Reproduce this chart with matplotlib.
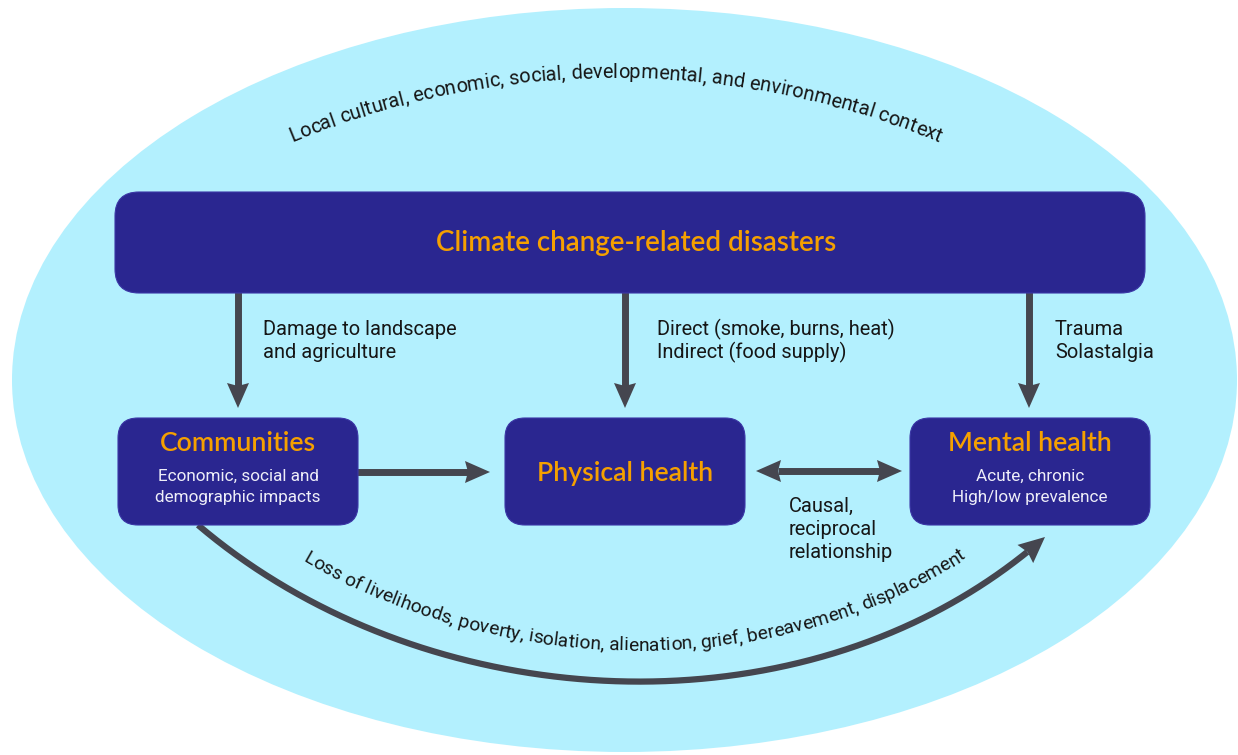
import numpy as np
import matplotlib
matplotlib.use("Agg")
import matplotlib.pyplot as plt
from matplotlib import ft2font
from matplotlib.patches import Ellipse, FancyBboxPatch, Polygon
from matplotlib.font_manager import FontProperties, findfont, get_font

# ---------------- content ----------------
title = "Climate change-related disasters"
node_titles = ["Communities", "Physical health", "Mental health"]
node_subs = [["Economic, social and", "demographic impacts"], [], ["Acute, chronic", "High/low prevalence"]]
edge_labels = [["Damage to landscape", "and agriculture"],
               ["Direct (smoke, burns, heat)", "Indirect (food supply)"],
               ["Trauma", "Solastalgia"]]
recip_label = ["Causal,", "reciprocal", "relationship"]
context_label = "Local cultural, economic, social, developmental, and environmental context"
loss_label = "Loss of livelihoods, poverty, isolation, alienation, grief, bereavement, displacement"

# ---------------- style ----------------
BG = '#B3F0FE'
BOX = '#2A2690'
ORANGE = '#F5A000'
ARROW = '#45464F'
TXT = '#161616'
SUB = '#EEEEF8'
BODY = 'Roboto'
HEAD = 'Lato'

W, H = 1238, 755
fig = plt.figure(figsize=(W / 100, H / 100), dpi=100)
ax = fig.add_axes([0, 0, 1, 1])
ax.set_xlim(0, W)
ax.set_ylim(H, 0)
ax.axis('off')
renderer = fig.canvas.get_renderer()


def text_w(s, size, family, weight='normal'):
    fp = FontProperties(family=family, size=size, weight=weight)
    w, h, d = renderer.get_text_width_height_descent(s, fp, ismath=False)
    return w


def fit(s, family, target, weight='normal'):
    return 10.0 * target / text_w(s, 10.0, family, weight)


# background ellipse
ax.add_patch(Ellipse((624.5, 380), 1225, 744, fc=BG, ec='none', zorder=0))


def rbox(x0, y0, x1, y1, r):
    ax.add_patch(FancyBboxPatch((x0, y0), x1 - x0, y1 - y0,
                                boxstyle=f"round,pad=0,rounding_size={r}",
                                fc=BOX, ec='#3B37A6', lw=0.8, zorder=4))


def head(tip, direction, length=25, hw=11, notch=3):
    d = np.asarray(direction, float)
    d = d / np.linalg.norm(d)
    n = np.array([-d[1], d[0]])
    tip = np.asarray(tip, float)
    base = tip - d * length
    pts = [tip, base + n * hw, base + d * notch, base - n * hw]
    ax.add_patch(Polygon(pts, closed=True, fc=ARROW, ec='none', zorder=5))
    return base + d * notch


def straight_arrow(p0, tip, lw=5, double=False):
    p0 = np.asarray(p0, float)
    tip = np.asarray(tip, float)
    e = head(tip, tip - p0)
    s = p0
    if double:
        s = head(p0, p0 - tip)
    ax.plot([s[0], e[0]], [s[1], e[1]], color=ARROW, lw=lw,
            solid_capstyle='butt', zorder=3)


# ---------- curved arrow (cubic bezier fitted through traced points) ----------
curve_pts = np.array([(198, 525), (230, 550), (280, 588), (330, 610), (380, 633),
                      (463, 657), (547, 675), (630, 683), (713, 678), (797, 663),
                      (870, 637), (937, 613), (987, 587), (1020, 560), (1045, 537)], float)
dd = np.r_[0, np.cumsum(np.hypot(*np.diff(curve_pts, axis=0).T))]
tt = dd / dd[-1]
B = np.c_[(1 - tt) ** 3, 3 * tt * (1 - tt) ** 2, 3 * tt ** 2 * (1 - tt), tt ** 3]
P0, P3 = curve_pts[0], curve_pts[-1]
R = curve_pts - np.outer(B[:, 0], P0) - np.outer(B[:, 3], P3)
sol = np.linalg.lstsq(B[:, 1:3], R, rcond=None)[0]
P1, P2 = sol
t = np.linspace(0, 1, 600)
bez = (np.outer((1 - t) ** 3, P0) + np.outer(3 * t * (1 - t) ** 2, P1)
       + np.outer(3 * t ** 2 * (1 - t), P2) + np.outer(t ** 3, P3))
tip = bez[-1]
dirn = bez[-1] - bez[-8]
hb = head(tip, dirn, length=26, hw=12, notch=3)
keep = np.hypot(bez[:, 0] - tip[0], bez[:, 1] - tip[1]) > 22
ax.plot(bez[keep, 0], bez[keep, 1], color=ARROW, lw=4.5, solid_capstyle='butt', zorder=3)

# ---------- boxes ----------
rbox(115, 192, 1145, 293, 24)
node_x = [(118, 358), (505, 745), (910, 1150)]
for (x0, x1) in node_x:
    rbox(x0, 418, x1, 525, 20)

# ---------- straight arrows ----------
for x in [238, 625, 1029]:
    straight_arrow((x, 290), (x, 408))
straight_arrow((356, 472), (490, 472))
straight_arrow((756, 471), (902, 471), double=True)

# ---------- texts ----------
hw_ = 'semibold'
fs_title = fit(title, HEAD, 402, hw_)
ax.text(636, 251, title, color=ORANGE, fontsize=fs_title, family=HEAD,
        weight=hw_, ha='center', va='baseline', zorder=6)

head_targets = [154, 178, 164]
head_base = [451, 481, 451]
fs_node = np.mean([fit(s, HEAD, w, hw_) for s, w in zip(node_titles, head_targets)])
centers = [238, 625, 1030]
for cx, s, by in zip(centers, node_titles, head_base):
    ax.text(cx, by, s, color=ORANGE, fontsize=fs_node, family=HEAD, weight=hw_,
            ha='center', va='baseline', zorder=6)

fs_sub = fit("Economic, social and", BODY, 161)
for cx, lines in zip(centers, node_subs):
    for i, ln in enumerate(lines):
        ax.text(cx, 481 + 21 * i, ln, color=SUB, fontsize=fs_sub, family=BODY,
                ha='center', va='baseline', zorder=6)

fs_lab = fit("Damage to landscape", BODY, 194)
for lx, lines in zip([263, 657, 1055], edge_labels):
    for i, ln in enumerate(lines):
        ax.text(lx, 335 + 23 * i, ln, color=TXT, fontsize=fs_lab, family=BODY,
                ha='left', va='baseline', zorder=6)
for i, ln in enumerate(recip_label):
    ax.text(789, 512 + 23 * i, ln, color=TXT, fontsize=fs_lab, family=BODY,
            ha='left', va='baseline', zorder=6)


# ---------- text on path (advance-width based layout) ----------
_NOHINT = ft2font.LoadFlags.NO_HINTING if hasattr(ft2font, 'LoadFlags') else ft2font.LOAD_NO_HINTING
_KDEF = ft2font.Kerning.DEFAULT if hasattr(ft2font, 'Kerning') else ft2font.KERNING_DEFAULT


def layout(s, fs, family):
    font = get_font(findfont(FontProperties(family=family)))
    font.set_size(fs, 100)
    x = 0.0
    prev = None
    out = []
    for ch in s:
        idx = font.get_char_index(ord(ch))
        if prev is not None:
            x += font.get_kerning(prev, idx, _KDEF) / 64.0
        g = font.load_glyph(idx, flags=_NOHINT)
        adv = g.linearHoriAdvance / 65536.0
        out.append((ch, x + adv / 2.0))
        x += adv
        prev = idx
    return out, x


def text_on_path(s, path, x_start, x_end, family, color):
    seg = np.hypot(*np.diff(path, axis=0).T)
    cum = np.r_[0, np.cumsum(seg)]
    s_start = np.interp(x_start, path[:, 0], cum)
    s_end = np.interp(x_end, path[:, 0], cum)
    _, tot = layout(s, 10.0, family)
    fs = 10.0 * (s_end - s_start) / tot
    items, _ = layout(s, fs, family)
    for ch, c in items:
        if ch == ' ':
            continue
        sp = s_start + c
        x = np.interp(sp, cum, path[:, 0])
        y = np.interp(sp, cum, path[:, 1])
        x2 = np.interp(sp + 1.5, cum, path[:, 0])
        y2 = np.interp(sp + 1.5, cum, path[:, 1])
        x1 = np.interp(sp - 1.5, cum, path[:, 0])
        y1 = np.interp(sp - 1.5, cum, path[:, 1])
        ang = np.degrees(np.arctan2(-(y2 - y1), x2 - x1))
        ax.text(x, y, ch, fontsize=fs, family=family, color=color, rotation=ang,
                rotation_mode='anchor', ha='center', va='baseline', zorder=6)


# top arc
phi = np.linspace(-0.7, 0.7, 800)
arc = np.c_[615 + 845 * np.sin(phi), 923 - 845 * np.cos(phi)]
text_on_path(context_label, arc, 292, 940, BODY, TXT)

# bottom: offset of curved arrow
tan = np.gradient(bez, axis=0)
tan = tan / np.linalg.norm(tan, axis=1)[:, None]
nrm = np.c_[tan[:, 1], -tan[:, 0]]
off = bez + nrm * 31
text_on_path(loss_label, off, 302, 968, BODY, TXT)

fig.savefig("out.png", dpi=100)
